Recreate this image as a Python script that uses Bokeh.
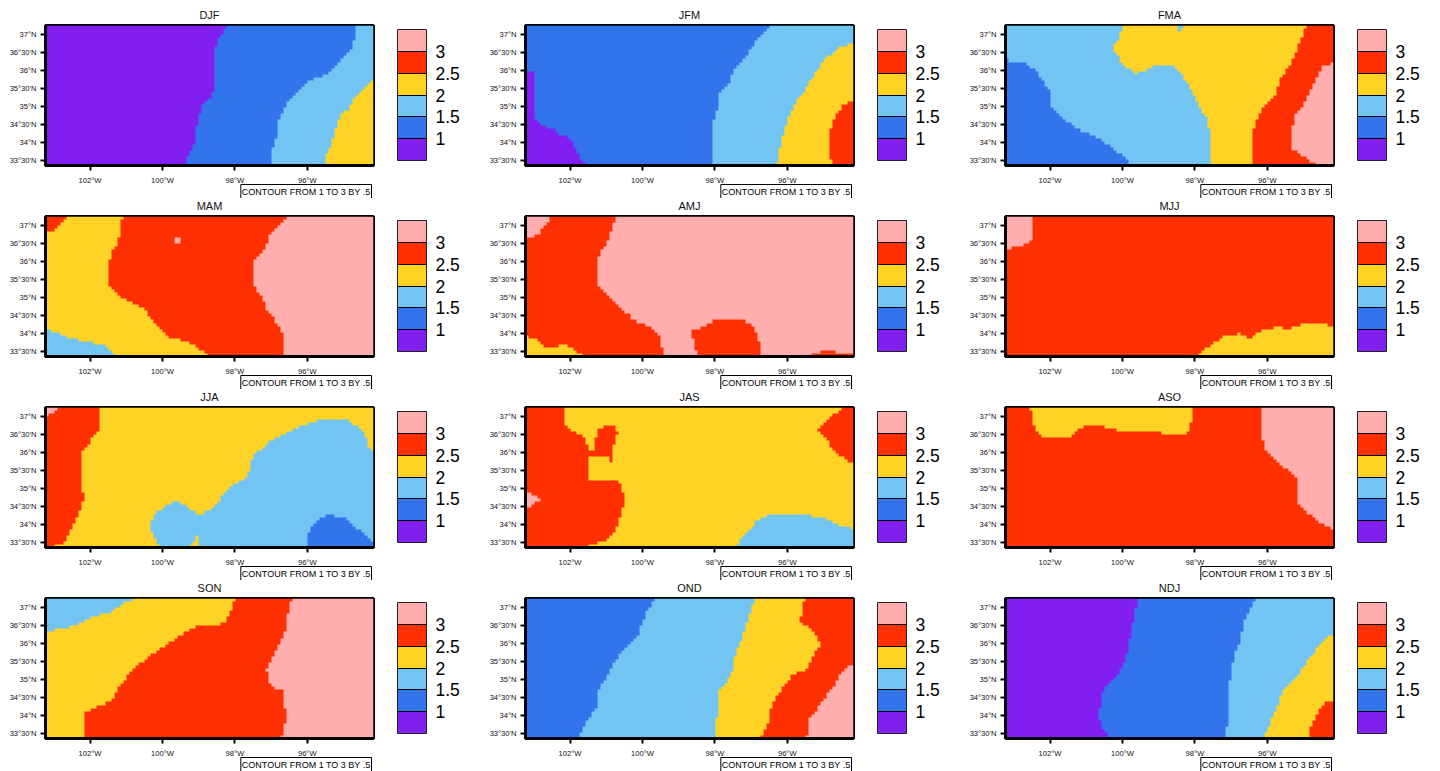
from bokeh.embed import file_html
from bokeh.layouts import column, row
from bokeh.models import ColorBar, FixedTicker, LinearColorMapper, Range1d, Title
from bokeh.plotting import figure
from bokeh.resources import INLINE
import numpy as np

# Domain and ticks
LON_MIN, LON_MAX = -103.23, -94.17
LAT_MIN, LAT_MAX = 33.37, 37.24
W, E, N, S = -103.6, -93.8, 37.6, 33.0
LON_TICKS = [-102, -100, -98, -96]
LON_LABELS = ["102°W", "100°W", "98°W", "96°W"]
LAT_TICKS = [33.5, 34, 34.5, 35, 35.5, 36, 36.5, 37]
LAT_LABELS = ["33°30'N", "34°N", "34°30'N", "35°N", "35°30'N", "36°N", "36°30'N", "37°N"]
LEVELS = [1, 1.5, 2, 2.5, 3]
COLORS = ["#801FF0", "#3373EC", "#72C5F2", "#FFD326", "#FF3000", "#FFADAD"]
NOTE = "CONTOUR FROM 1 TO 3 BY .5"
SEASONS = ["DJF", "JFM", "FMA", "MAM", "AMJ", "MJJ", "JJA", "JAS", "ASO", "SON", "OND", "NDJ"]

# Class mid-values
PUR, BLU, SKY, YEL, RED, PNK = 0.75, 1.25, 1.75, 2.25, 2.75, 3.25

# Each region: (class value, longitudes, latitudes); painted in order over a base class
DJF_BASE = PUR
DJF = [
    (BLU, [-98.21, -98.44, -98.53, -98.55, -98.62, -98.85, -98.97, -99.05, -99.13, -99.27, -99.28, -99.28, E, E, -98.21],
          [37.24, 36.83, 36.64, 35.72, 35.31, 35.08, 34.71, 34.25, 33.83, 33.65, 33.37, S, S, N, N]),
    (SKY, [-94.60, -94.66, -94.71, -94.98, -95.26, -95.49, -95.81, -96.18, -96.46, -96.64, -96.82, -96.87, -96.99, -97.01, -97.01, E, E, -94.60],
          [37.24, 37.01, 36.64, 36.36, 36.09, 35.86, 35.77, 35.49, 35.21, 34.85, 34.48, 34.02, 33.74, 33.37, S, S, N, N]),
    (YEL, [E, -94.17, -94.48, -94.71, -94.80, -95.08, -95.21, -95.35, -95.49, -95.52, -95.52, E],
          [35.72, 35.72, 35.44, 35.17, 34.94, 34.75, 34.29, 33.88, 33.60, 33.37, S, S]),
]
JFM_BASE = BLU
JFM = [
    (PUR, [W, -102.97, -102.97, -102.72, -102.45, -102.22, -101.99, -101.85, -101.71, -101.57, -101.57, W],
          [35.92, 35.92, 34.66, 34.43, 34.36, 34.20, 34.15, 33.88, 33.56, 33.39, S, S]),
    (SKY, [-96.42, -96.60, -96.83, -97.06, -97.43, -97.61, -97.87, -97.93, -98.03, -98.05, -98.05, E, E, -96.42],
          [37.24, 37.01, 36.78, 36.46, 36.04, 35.63, 35.31, 34.89, 34.62, 33.39, S, S, N, N]),
    (YEL, [E, -94.53, -94.94, -95.22, -95.49, -95.72, -95.95, -96.09, -96.18, -96.28, -96.32, -96.32, E],
          [36.87, 36.59, 36.27, 35.90, 35.44, 35.17, 34.71, 34.25, 33.88, 33.46, 33.39, S, S]),
    (RED, [E, -94.48, -94.67, -94.79, -94.85, -94.76, -94.67, -94.67, E],
          [35.31, 34.98, 34.66, 34.34, 33.83, 33.46, 33.39, S, S]),
]
FMA_BASE = SKY
FMA = [
    (BLU, [W, -102.95, -102.68, -102.35, -102.17, -101.99, -101.94, -101.71, -101.25, -100.60, -100.24, -99.91, -99.78, -99.78, W],
          [36.29, 36.23, 36.18, 35.95, 35.63, 35.40, 34.94, 34.71, 34.38, 34.11, 33.83, 33.60, 33.39, S, S]),
    (YEL, [-99.94, -100.05, -100.24, -100.10, -99.82, -99.59, -99.32, -99.09, -98.58, -98.35, -98.07, -97.89, -97.66, -97.58, -97.58, E, E, -99.94],
          [37.24, 36.92, 36.59, 36.32, 36.04, 35.90, 36.00, 36.13, 36.13, 35.86, 35.44, 34.98, 34.62, 34.29, S, S, N, N]),
    (SKY, [-98.53, -98.42, -98.30, -98.30, -98.53], [37.24, 37.03, 37.24, N, N]),
    (RED, [-94.90, -95.03, -95.22, -95.59, -95.77, -96.14, -96.28, -96.42, -96.42, E, E, -94.90],
          [37.24, 36.87, 36.36, 35.81, 35.31, 34.89, 34.62, 34.20, S, S, N, N]),
    (PNK, [E, -94.44, -94.62, -94.85, -95.03, -95.22, -95.28, -95.28, -94.94, -94.62, -94.62, E],
          [36.32, 36.09, 35.72, 35.31, 34.94, 34.71, 34.43, 33.83, 33.60, 33.39, S, S]),
]
MAM_BASE = YEL
MAM = [
    (RED, [W, -102.95, -102.77, -102.54, -102.54, W], [36.81, 36.83, 37.01, 37.24, N, N]),
    (SKY, [W, -103.00, -102.68, -102.35, -101.99, -101.62, -101.39, -101.25, -101.25, W],
          [34.23, 34.06, 33.92, 33.83, 33.77, 33.68, 33.51, 33.39, S, S]),
    (RED, [-101.07, -101.16, -101.20, -101.39, -101.48, -101.50, -101.30, -100.88, -100.47, -100.28, -99.82, -99.32, -98.99, -98.67, -98.67, E, E, -101.07],
          [37.24, 36.83, 36.50, 36.23, 35.81, 35.31, 35.12, 34.85, 34.66, 34.38, 33.92, 33.79, 33.60, 33.39, S, S, N, N]),
    (PNK, [-96.55, -96.74, -97.06, -97.11, -97.43, -97.50, -97.50, -97.24, -97.11, -96.74, -96.62, -96.62, -96.62, E, E, -96.55],
          [37.24, 36.96, 36.64, 36.41, 36.04, 35.86, 35.35, 34.98, 34.66, 34.15, 33.88, 33.39, S, S, N, N]),
    (PNK, [-99.66, -99.50, -99.50, -99.66], [36.66, 36.66, 36.44, 36.44]),
]
AMJ_BASE = RED
AMJ = [
    (PNK, [W, -103.05, -102.81, -102.63, -102.54, -102.54, W], [36.57, 36.59, 36.78, 37.01, 37.24, N, N]),
    (YEL, [W, -102.91, -102.68, -102.40, -102.22, -101.99, -101.76, -101.57, -101.57, W],
          [34.11, 33.83, 33.62, 33.62, 33.69, 33.65, 33.46, 33.39, S, S]),
    (PNK, [-100.70, -100.84, -100.97, -101.16, -101.20, -101.20, -100.79, -100.33, -100.28, -99.82, -99.45, -99.43, -99.43, E, E, -100.70],
          [37.24, 36.83, 36.46, 36.18, 36.09, 35.26, 34.89, 34.48, 34.38, 34.20, 33.92, 33.39, S, S, N, N]),
    (RED, [-98.61, -98.35, -97.98, -97.15, -96.88, -96.78, -96.69, -96.69, -98.49, -98.49, -98.55, -98.61],
          [34.08, 34.20, 34.36, 34.36, 34.15, 33.83, 33.39, S, S, 33.39, 33.74, 33.88]),
    (RED, [-95.28, -94.99, -94.67, -94.62, E, E, -95.28], [33.44, 33.51, 33.53, 33.46, 33.46, S, S]),
]
MJJ_BASE = RED
MJJ = [
    (PNK, [W, -102.81, -102.51, -102.51, W], [36.19, 36.38, 36.50, N, N]),
    (YEL, [-97.93, -97.57, -97.15, -96.74, -96.46, -96.13, -95.77, -95.36, -94.94, -94.53, E, E, -97.93],
          [33.39, 33.68, 33.95, 34.00, 33.87, 34.09, 34.17, 34.15, 34.28, 34.28, 34.17, S, S]),
]
JJA_BASE = YEL
JJA = [
    (RED, [W, -101.71, -101.72, -101.98, -102.21, -102.23, -102.17, -102.26, -102.49, -102.67, -102.95, -102.99, -102.99, W],
          [N, N, 36.60, 36.28, 36.01, 35.08, 34.72, 34.39, 33.98, 33.52, 33.45, 33.38, S, S]),
    (PNK, [W, -102.88, -102.99, W], [N, 37.23, 37.06, 36.86]),
    (SKY, [-100.05, -100.23, -100.32, -100.19, -99.86, -99.63, -99.36, -99.03, -98.85, -98.57, -98.11, -97.65, -97.56, -97.42, -97.01, -96.36, -95.63, -94.89, -94.48, -94.22, E, E, -98.83, -99.02, -99.15, -100.05],
          [33.38, 33.66, 33.98, 34.26, 34.53, 34.65, 34.53, 34.28, 34.28, 34.50, 35.06, 35.27, 35.68, 35.96, 36.28, 36.60, 36.88, 36.88, 36.60, 36.05, 36.05, S, S, 33.70, 33.43, S]),
    (BLU, [-96.01, -96.01, -95.81, -95.44, -94.98, -94.71, -94.20, E, E, -96.01],
          [S, 33.70, 34.03, 34.27, 34.21, 33.98, 33.57, 33.57, S, S]),
]
JAS_BASE = YEL
JAS = [
    (RED, [-102.17, -102.17, -101.98, -101.66, -101.43, -101.34, -101.24, -101.01, -100.74, -100.67, -100.78, -100.83, -100.92, -101.45, -101.49, -101.48, -101.20, -100.74, -100.55, -100.46, -100.65, -100.69, -100.92, -101.52, -101.52, W, W, -102.17],
          [37.23, 36.74, 36.56, 36.42, 36.05, 36.03, 36.56, 36.71, 36.71, 36.51, 36.14, 35.70, 35.85, 35.85, 35.68, 35.22, 35.22, 35.22, 35.04, 34.58, 34.12, 33.93, 33.61, 33.41, S, S, N, N]),
    (RED, [-94.43, -95.14, -94.66, -94.20, E, E, -94.43], [37.23, 36.59, 36.01, 35.68, 35.68, N, N]),
    (PNK, [W, -103.13, -102.81, -103.13, W], [34.85, 34.85, 34.69, 34.47, 34.41]),
    (SKY, [-97.42, -97.19, -96.87, -96.55, -96.00, -95.44, -94.98, -94.52, E, E, -97.42],
          [33.38, 33.70, 34.07, 34.27, 34.30, 34.26, 34.21, 33.98, 33.80, S, S]),
]
ASO_BASE = RED
ASO = [
    (YEL, [-102.54, -102.49, -102.40, -102.12, -101.43, -101.30, -101.11, -100.88, -100.60, -100.47, -100.19, -99.78, -99.27, -98.99, -98.76, -98.35, -98.12, -98.07, -98.07, -102.54],
          [37.24, 36.83, 36.59, 36.35, 36.35, 36.50, 36.64, 36.73, 36.73, 36.64, 36.59, 36.50, 36.50, 36.57, 36.44, 36.44, 36.57, 37.24, N, N]),
    (PNK, [-96.09, -96.17, -96.17, -96.02, -95.63, -95.17, -95.15, -94.71, -94.25, E, E, -96.09],
          [37.24, 36.83, 36.46, 36.00, 35.63, 35.31, 34.57, 34.20, 33.90, 33.90, N, N]),
]
SON_BASE = YEL
SON = [
    (SKY, [W, -102.82, -102.35, -101.89, -101.39, -101.02, -100.60, -100.60, W],
          [36.23, 36.36, 36.46, 36.69, 36.84, 37.10, 37.24, N, N]),
    (RED, [-97.98, -98.12, -98.26, -98.49, -99.04, -99.59, -99.91, -100.28, -100.88, -101.02, -101.20, -101.39, -101.76, -102.15, -102.15, -102.10, -102.10, E, E, -97.98],
          [37.24, 36.83, 36.55, 36.46, 36.43, 36.13, 35.90, 35.67, 35.21, 34.94, 34.75, 34.38, 34.27, 34.08, 33.60, 33.39, S, S, N, N]),
    (PNK, [-96.37, -96.51, -96.55, -96.69, -96.88, -97.13, -97.01, -96.62, -96.62, -96.55, -96.58, -96.69, -96.69, E, E, -96.37],
          [37.24, 36.92, 36.46, 36.09, 35.72, 35.26, 34.80, 34.66, 34.25, 34.15, 33.88, 33.46, S, S, N, N]),
]
OND_BASE = BLU
OND = [
    (SKY, [-99.59, -99.87, -100.10, -100.37, -100.79, -100.97, -101.20, -101.25, -101.48, -101.71, -101.73, -101.73, E, E, -99.59],
          [37.24, 36.83, 36.23, 35.95, 35.44, 35.08, 34.66, 34.25, 33.92, 33.46, 33.39, S, S, N, N]),
    (YEL, [-96.85, -97.06, -97.24, -97.43, -97.52, -97.66, -97.87, -97.87, -97.95, -97.95, E, E, -96.85],
          [37.24, 36.69, 36.13, 35.67, 35.17, 34.94, 34.71, 33.97, 33.92, S, S, N, N]),
    (RED, [-95.51, -95.54, -95.65, -95.22, -95.08, -95.26, -95.45, -95.82, -96.09, -96.42, -96.51, -96.69, -96.74, -96.74, E, E, -95.51],
          [37.24, 36.87, 36.59, 36.27, 35.95, 35.67, 35.26, 35.12, 34.80, 34.29, 33.83, 33.42, 33.39, S, S, N, N]),
    (PNK, [E, -94.48, -94.76, -95.22, -95.37, -95.45, -95.45, E],
          [35.72, 35.17, 34.71, 34.11, 33.92, 33.39, S, S]),
]
NDJ_BASE = PUR
NDJ = [
    (BLU, [-99.55, -99.64, -99.73, -99.82, -99.96, -100.10, -100.37, -100.54, -100.54, -100.62, -100.60, -100.37, -100.37, E, E, -99.55],
          [37.24, 36.73, 36.36, 35.81, 35.40, 35.12, 34.89, 34.62, 34.25, 34.15, 33.79, 33.39, S, S, N, N]),
    (SKY, [-96.32, -96.51, -96.65, -96.74, -96.88, -96.97, -97.06, -97.06, -97.13, -97.13, E, E, -96.32],
          [37.24, 36.78, 36.50, 36.00, 35.72, 35.26, 34.71, 33.79, 33.69, S, S, N, N]),
    (YEL, [E, -94.48, -94.90, -95.26, -95.49, -95.68, -95.86, -96.05, -96.09, -96.09, E],
          [36.46, 36.04, 35.44, 34.94, 34.75, 34.34, 33.92, 33.46, 33.39, S, S]),
    (RED, [E, -94.48, -94.67, -94.80, -94.85, -94.85, E],
          [34.57, 34.29, 33.92, 33.60, 33.39, S, S]),
]
PANELS = {"DJF": (DJF_BASE, DJF), "JFM": (JFM_BASE, JFM), "FMA": (FMA_BASE, FMA), "MAM": (MAM_BASE, MAM),
          "AMJ": (AMJ_BASE, AMJ), "MJJ": (MJJ_BASE, MJJ), "JJA": (JJA_BASE, JJA), "JAS": (JAS_BASE, JAS),
          "ASO": (ASO_BASE, ASO), "SON": (SON_BASE, SON), "OND": (OND_BASE, OND), "NDJ": (NDJ_BASE, NDJ)}

# The source field sits on a grid about one twelfth of a degree wide
STEP = 1 / 12
lon_cells = np.arange(LON_MIN + STEP / 2, LON_MAX, STEP)
lat_cells = np.arange(LAT_MIN + STEP / 2, LAT_MAX, STEP)
GX, GY = np.meshgrid(lon_cells, lat_cells)


def inside(px, py):
    px, py = np.asarray(px, float), np.asarray(py, float)
    qx, qy = np.roll(px, 1), np.roll(py, 1)
    hit = np.zeros(GX.shape, bool)
    for ax, ay, bx, by in zip(px, py, qx, qy):
        if ay == by:
            continue
        crosses = (ay > GY) != (by > GY)
        hit ^= crosses & (GX < (bx - ax) * (GY - ay) / (by - ay) + ax)
    return hit


def field(base, regions):
    z = np.full(GX.shape, base, float)
    for val, lons, lats in regions:
        z[inside(lons, lats)] = val
    return z


mapper = LinearColorMapper(palette=COLORS, low=0.5, high=3.5)


def panel(name, col):
    base, regions = PANELS[name]
    p = figure(
        frame_width=328, frame_height=140,
        x_range=Range1d(LON_MIN, LON_MAX), y_range=Range1d(LAT_MIN, LAT_MAX),
        output_backend="svg", toolbar_location=None,
        min_border_left=45, min_border_right=(91 if col == 2 else 107),
        min_border_top=23, min_border_bottom=33,
        background_fill_color=None, border_fill_color=None,
    )
    p.grid.visible = False
    p.outline_line_color = "black"
    p.outline_line_width = 3
    p.image(image=[field(base, regions)], x=LON_MIN, y=LAT_MIN, dw=LON_MAX - LON_MIN, dh=LAT_MAX - LAT_MIN,
            color_mapper=mapper)

    p.title = Title(text=name, align="center", text_font="Liberation Sans", text_font_size="11px",
                    text_font_style="normal", text_color="#111111", standoff=9)

    for ax, ticks, labels, standoff in ((p.xaxis[0], LON_TICKS, LON_LABELS, 5), (p.yaxis[0], LAT_TICKS, LAT_LABELS, 4)):
        ax.ticker = FixedTicker(ticks=ticks)
        ax.major_label_overrides = dict(zip(ticks, labels))
        ax.major_label_text_font = "Liberation Sans"
        ax.major_label_text_font_size = "7.6px"
        ax.major_label_text_color = "#111111"
        ax.major_label_standoff = standoff
        ax.major_tick_out = 5
        ax.major_tick_in = 0
        ax.major_tick_line_width = 2
        ax.major_tick_line_color = "black"
        ax.minor_tick_line_color = None
        ax.axis_line_color = "black"
        ax.axis_line_width = 3

    cb = ColorBar(
        color_mapper=mapper, ticker=FixedTicker(ticks=LEVELS), width=29, height=131, padding=0, margin=0,
        location=(352, 5), major_label_text_font="Liberation Sans", major_label_text_font_size="17.5px",
        major_label_text_color="black", label_standoff=9, major_tick_in=29, major_tick_out=0,
        major_tick_line_color="black", major_tick_line_width=1.2, minor_tick_line_color=None,
        bar_line_color="#222222", bar_line_width=1, border_line_color=None, background_fill_color=None,
    )
    p.add_layout(cb, "center")

    note = Title(
        text=NOTE, align="right", text_font="Liberation Sans", text_font_size="9px", text_font_style="normal",
        text_color="black", border_line_color="black", border_line_width=1, background_fill_color="white",
        standoff=-10, offset=2, padding=(1, 2),
    )
    p.add_layout(note, "below")
    return p


rows = []
for r in range(4):
    rows.append(row([panel(SEASONS[r * 3 + c], c) for c in range(3)], spacing=0,
                    margin=(0 if r == 0 else -5, 0, 0, 0)))
layout = column(rows, spacing=0, margin=(2, 0, 0, 0))

open("out.html", "w").write(file_html(layout, INLINE))
